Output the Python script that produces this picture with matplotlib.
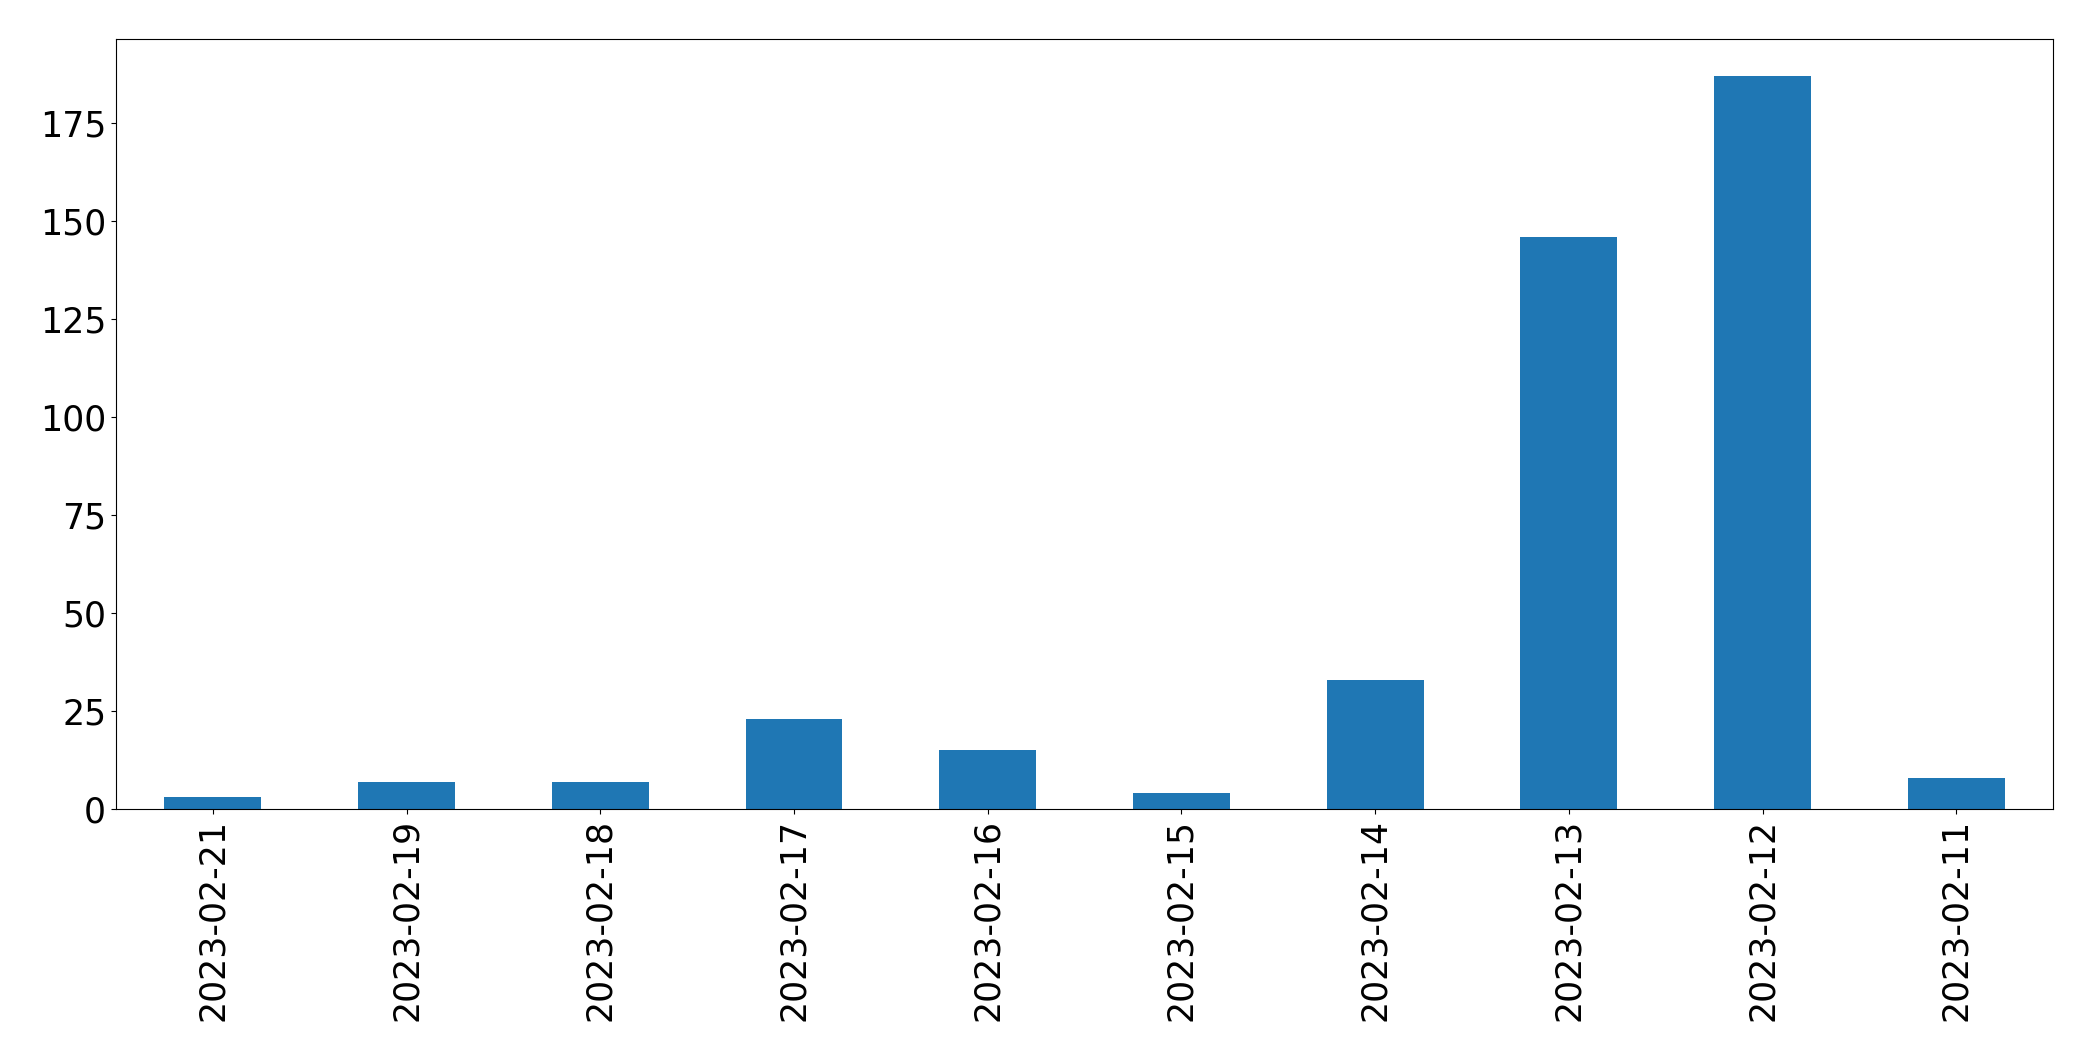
import pandas as pd
import matplotlib
matplotlib.use("Agg")
import matplotlib.pyplot as plt

# Données
dates = ["2023-02-21", "2023-02-19", "2023-02-18", "2023-02-17", "2023-02-16",
         "2023-02-15", "2023-02-14", "2023-02-13", "2023-02-12", "2023-02-11"]
comptes = [3, 7, 7, 23, 15, 4, 33, 146, 187, 8]

serie = pd.Series(comptes, index=dates)

fig, ax = plt.subplots(figsize=(20.93, 10.61), dpi=100)
serie.plot(kind="bar", ax=ax, color="#1f77b4")
ax.tick_params(axis="both", labelsize=25)
fig.subplots_adjust(left=0.0554, right=0.981, top=0.963, bottom=0.2375)

fig.savefig("out.png", dpi=100)
